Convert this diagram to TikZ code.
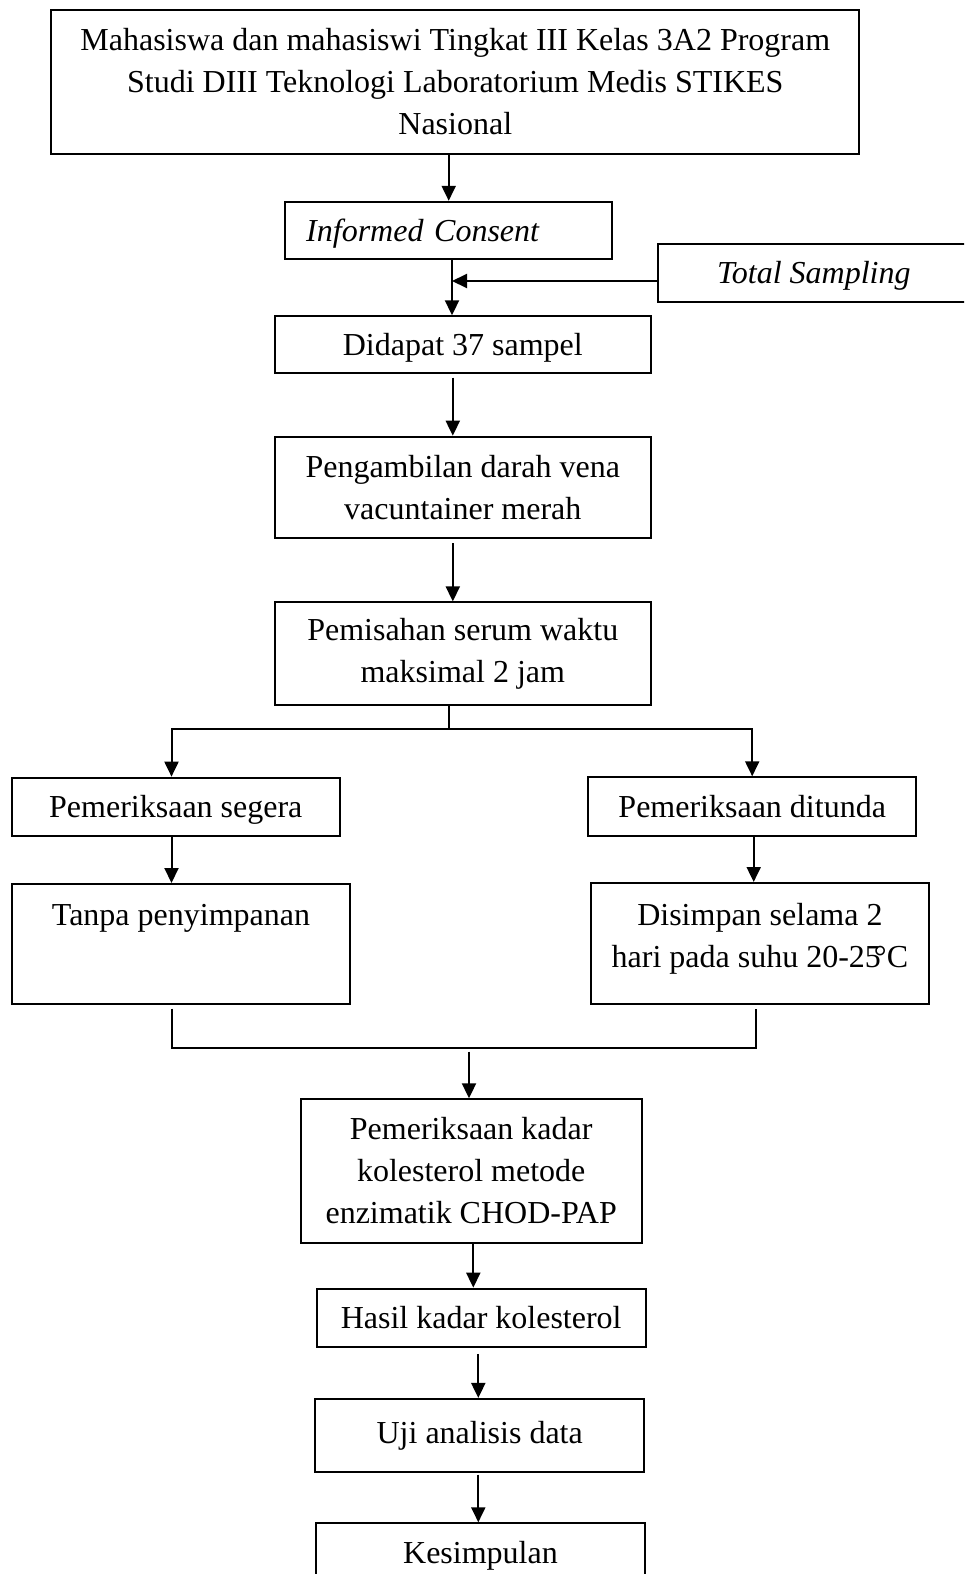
\documentclass[tikz,border=0pt]{standalone}
\usepackage{fontspec}
\setmainfont{Liberation Serif}
\usetikzlibrary{arrows.meta}
\begin{document}
\begin{tikzpicture}[x=1pt,y=-1pt,
  box/.style={draw, line width=2pt, inner sep=0pt, align=center, font=\fontsize{32}{42}\selectfont},
  one/.style={text height=28.3pt, text depth=6.9pt},
  txt/.style={inner sep=0pt, align=center, font=\fontsize{32}{42}\selectfont},
  arr/.style={line width=2pt, -{Triangle[length=15pt,width=14pt]}},
  ln/.style={line width=2pt}]
\useasboundingbox (0,0) rectangle (964,1574);
\clip (0,0) rectangle (964,1574);

\node[box, minimum width=808pt, minimum height=143.6pt] (b1) at (455.3,81.8)
  {Mahasiswa dan mahasiswi Tingkat III Kelas 3A2 Program\\Studi DIII Teknologi Laboratorium Medis STIKES\\Nasional};
\node[box, one, minimum height=57.2pt, text width=285pt, inner xsep=21pt, align=left] (ic) at (448.7,230.4)
  {\itshape Informed Consent};
\node[box, one, minimum width=312.4pt, minimum height=58pt] (ts) at (813.8,273) {\itshape Total Sampling};
\node[box, one, minimum width=375.6pt, minimum height=56.2pt] (dd) at (462.8,344.4) {Didapat 37 sampel};
\node[box, minimum width=375.6pt, minimum height=101.4pt] (pd) at (462.8,487.4) {Pengambilan darah vena\\vacuntainer merah};
\node[box, minimum width=375.6pt, minimum height=102.4pt] (ps) at (462.8,653.6) {Pemisahan serum waktu\\maksimal 2 jam};
\node[box, one, minimum width=328.3pt, minimum height=58.3pt] (sg) at (175.8,806.8) {Pemeriksaan segera};
\node[box, one, minimum width=327.7pt, minimum height=58.4pt] (dt) at (752.2,806.5) {Pemeriksaan ditunda};
\node[box, minimum width=338.7pt, minimum height=120pt] (tp) at (181,944) {};
\node[txt, anchor=north] (tpt) at (181,904) {Tanpa penyimpanan};
\node[box, minimum width=338.2pt, minimum height=121pt] (ds) at (759.9,943.5) {};
\node[txt, anchor=north] (dst) at (759.9,903.3) {Disimpan selama 2\\hari pada suhu 20-25\kern-0.22em°C};
\node[box, minimum width=341pt, minimum height=143.4pt] (pk) at (471.2,1171) {Pemeriksaan kadar\\kolesterol metode\\enzimatik CHOD-PAP};
\node[box, one, minimum width=329pt, minimum height=58.3pt] (hs) at (481.2,1317.8) {Hasil kadar kolesterol};
\node[box, minimum width=328.7pt, minimum height=72.7pt] (uj) at (479.7,1435.3) {Uji analisis data};
\node[box, one, minimum width=329pt, minimum height=58pt] (ks) at (480.5,1552.3) {Kesimpulan};

\coordinate (m) at (452,281);
\coordinate (sp) at (449.4,729.3);
\coordinate (jl) at (171.5,1047.7);
\coordinate (jr) at (755.6,1047.7);
\coordinate (jm) at (469,1047.7);

\draw[arr] (b1.south -| ic.north) -- (ic.north);
\draw[arr] (ic.south -| m) -- (dd.north -| m);
\draw[arr] (ts.west |- m) -- (m);
\draw[arr, shorten <=4pt] ([xshift=-10pt]dd.south) -- ([xshift=-10pt]pd.north);
\draw[arr, shorten <=4pt] ([xshift=-10pt]pd.south) -- ([xshift=-10pt]ps.north);
\draw[ln] (ps.south -| sp) -- (sp);
\draw[arr] (sp) -| ([xshift=-4.3pt]sg.north);
\draw[arr] (sp) -| (dt.north);
\draw[arr] ([xshift=-4.3pt]sg.south) -- ([xshift=-4.3pt]sg.south |- tp.north);
\draw[arr] ([xshift=1.5pt]dt.south) -- ([xshift=1.5pt]dt.south |- ds.north);
\draw[ln, shorten <=3.7pt, shorten >=3.7pt] (tp.south -| jl) -- (jl) -- (jr) -- (ds.south -| jr);
\draw[arr, shorten <=4pt] (jm) -- (jm |- pk.north);
\draw[arr] ([xshift=2.1pt]pk.south) -- ([xshift=2.1pt]pk.south |- hs.north);
\draw[arr, shorten <=6pt] ([xshift=-2.9pt]hs.south) -- ([xshift=-2.9pt]hs.south |- uj.north);
\draw[arr, shorten <=2pt] ([xshift=-1.4pt]uj.south) -- ([xshift=-1.4pt]uj.south |- ks.north);
\end{tikzpicture}
\end{document}
